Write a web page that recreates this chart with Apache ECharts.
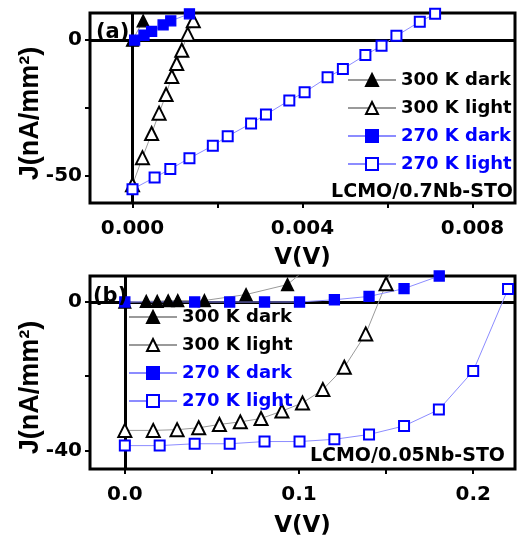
<!DOCTYPE html>
<html>
<head>
<meta charset="utf-8">
<script src="https://cdn.jsdelivr.net/npm/echarts@6/dist/echarts.min.js"></script>
<style>
  html, body { margin: 0; padding: 0; background: #fff; }
  #chart { width: 532px; height: 536px; }
</style>
</head>
<body>
<div id="chart"></div>
<script>
// panel (a): LCMO/0.7Nb-STO
var a300DarkV = [0, 0.00025];
var a300DarkJ = [0, 7.1];
var a300LightV = [0, 0.000234, 0.00045, 0.000625, 0.00079, 0.000925, 0.00104, 0.00116, 0.0013, 0.00143];
var a300LightJ = [-53.3, -43.3, -34.4, -26.9, -20, -13.4, -8.6, -3.7, 2.2, 7.1];
var a270DarkV = [0.00005, 0.00027, 0.00045, 0.00072, 0.0009, 0.00134];
var a270DarkJ = [0, 1.8, 3.2, 5.6, 7.1, 9.7];
var a270LightV = [0, 0.00052, 0.00089, 0.00134, 0.00189, 0.00224, 0.00279, 0.00314, 0.00369, 0.00405,
                  0.00459, 0.00495, 0.00548, 0.00586, 0.00621, 0.00676, 0.00712];
var a270LightJ = [-54.9, -50.6, -47.5, -43.5, -38.9, -35.4, -30.7, -27.4, -22.2, -19.2,
                  -13.7, -10.6, -5.5, -2.1, 1.6, 6.8, 9.7];

// panel (b): LCMO/0.05Nb-STO
var b300DarkV = [0, 0.0123, 0.0186, 0.0249, 0.0304, 0.0457, 0.0696, 0.0934, 0.108];
var b300DarkJ = [0, 0.2, 0.2, 0.35, 0.4, 0.4, 2, 4.7, 10.5];
var b300LightV = [0, 0.0163, 0.03, 0.0424, 0.0543, 0.0663, 0.0782, 0.0902, 0.102, 0.1137, 0.126, 0.1383, 0.15, 0.156];
var b300LightJ = [-34.6, -34.6, -34.4, -33.9, -33, -32.3, -31.4, -29.4, -27.2, -23.6, -17.6, -8.6, 4.9, 12];
var b270DarkV = [0, 0.0401, 0.0602, 0.0802, 0.1003, 0.1203, 0.1402, 0.1603, 0.1805];
var b270DarkJ = [0, 0, 0, 0, 0, 0.6, 1.5, 3.6, 7];
var b270LightV = [0, 0.02, 0.0401, 0.0602, 0.0802, 0.1003, 0.1203, 0.1402, 0.1603, 0.1803, 0.2, 0.22];
var b270LightJ = [-38.7, -38.7, -38.2, -38.2, -37.6, -37.6, -37, -35.7, -33.4, -29, -18.6, 3.5];

var names = ['300 K dark', '300 K light', '270 K dark', '270 K light'];
var nameColors = ['#000', '#000', '#0000ff', '#0000ff'];

var FONT = 'DejaVu Sans';
var BLACK = '#000';
var BLUE = '#0000ff';
var GRAY_LINE = '#9a9a9a';
var BLUE_LINE = '#8c8cff';

function pairs(xs, ys) {
  return xs.map(function (x, i) { return [x, ys[i]]; });
}

function mk(name, idx, xs, ys, symbol, size, color, lineColor) {
  return {
    name: name,
    type: 'line',
    xAxisIndex: idx,
    yAxisIndex: idx,
    data: pairs(xs, ys),
    symbol: symbol,
    symbolSize: size,
    z: 3,
    itemStyle: { color: color, borderColor: color, borderWidth: 1.3, opacity: 1 },
    lineStyle: { color: lineColor, width: 1 }
  };
}

// thick black lines through V = 0 and J = 0
function zeroLines(idx) {
  return {
    type: 'line',
    xAxisIndex: idx,
    yAxisIndex: idx,
    data: [],
    z: 1,
    markLine: {
      silent: true,
      z: 1,
      symbol: 'none',
      label: { show: false },
      lineStyle: { color: BLACK, width: 3, type: 'solid' },
      data: [{ xAxis: 0 }, { yAxis: 0 }]
    }
  };
}

function xAx(idx, min, max, labels, ticks, digits, gap) {
  return {
    type: 'value', gridIndex: idx, min: min, max: max,
    name: 'V(V)', nameLocation: 'middle', nameGap: gap, nameMoveOverlap: false,
    nameTextStyle: { fontFamily: FONT, fontWeight: 'bold', fontSize: 23, color: BLACK },
    axisLine: { show: false, onZero: false },
    splitLine: { show: false },
    axisTick: { show: true, inside: false, length: 5, lineStyle: { color: BLACK, width: 2 }, customValues: ticks },
    axisLabel: {
      customValues: labels, margin: 16,
      fontFamily: FONT, fontWeight: 'bold', fontSize: 20, color: BLACK,
      formatter: function (v) { return v.toFixed(digits); }
    }
  };
}

function yAx(idx, min, max, labels, ticks, pad) {
  return {
    type: 'value', gridIndex: idx, min: min, max: max,
    name: 'J(nA/mm\u00b2)', nameLocation: 'middle', nameGap: 46, nameRotate: 90, nameMoveOverlap: false,
    nameTextStyle: { fontFamily: 'Liberation Sans', fontWeight: 'bold', fontSize: 27, color: BLACK, padding: pad },
    axisLine: { show: false, onZero: false },
    splitLine: { show: false },
    axisTick: { show: true, inside: false, length: 5, lineStyle: { color: BLACK, width: 2 }, customValues: ticks },
    axisLabel: {
      customValues: labels, margin: 8,
      fontFamily: FONT, fontWeight: 'bold', fontSize: 20, color: BLACK
    }
  };
}

function legendFor(left, top) {
  return {
    orient: 'vertical', left: left, top: top, padding: 0,
    itemWidth: 48, itemHeight: 15, itemGap: 10,
    selectedMode: false,
    textStyle: { fontFamily: FONT, fontWeight: 'bold', fontSize: 18 },
    data: names.map(function (n, i) { return { name: n, textStyle: { color: nameColors[i] } }; })
  };
}

var chart = echarts.init(document.getElementById('chart'));

chart.setOption({
  animation: false,
  backgroundColor: '#fff',
  grid: [
    { left: 90, right: 17, top: 13, height: 190, outerBoundsMode: 'none',
      show: true, borderColor: BLACK, borderWidth: 3, backgroundColor: 'transparent' },
    { left: 90, right: 17, top: 276, height: 193, outerBoundsMode: 'none',
      show: true, borderColor: BLACK, borderWidth: 3, backgroundColor: 'transparent' }
  ],
  xAxis: [
    xAx(0, -0.001, 0.009, [0, 0.004, 0.008], [0, 0.002, 0.004, 0.006, 0.008], 3, 44),
    xAx(1, -0.02, 0.224, [0, 0.1, 0.2], [0, 0.05, 0.1, 0.15, 0.2], 1, 46)
  ],
  yAxis: [
    yAx(0, -60, 10, [-50, 0], [-50, -25, 0], [0, 11, 0, 0]),
    yAx(1, -45, 7, [-40, 0], [-40, -20, 0], [0, 30, 0, 0])
  ],
  legend: [legendFor(347, 71), legendFor(128, 308)],
  graphic: [
    { type: 'text', left: 96, top: 22, z: 10,
      style: { text: '(a)', font: 'bold 21px "DejaVu Sans"', fill: BLACK } },
    { type: 'text', left: 93, top: 286, z: 10,
      style: { text: '(b)', font: 'bold 21px "DejaVu Sans"', fill: BLACK } },
    { type: 'text', right: 19, top: 183, z: 10,
      style: { text: 'LCMO/0.7Nb-STO', font: 'bold 19px "DejaVu Sans"', fill: BLACK } },
    { type: 'text', right: 27, top: 447, z: 10,
      style: { text: 'LCMO/0.05Nb-STO', font: 'bold 19px "DejaVu Sans"', fill: BLACK } }
  ],
  series: [
    zeroLines(0),
    zeroLines(1),
    mk(names[0], 0, a300DarkV, a300DarkJ, 'triangle', 12, BLACK, GRAY_LINE),
    mk(names[1], 0, a300LightV, a300LightJ, 'emptyTriangle', 13, BLACK, GRAY_LINE),
    mk(names[2], 0, a270DarkV, a270DarkJ, 'rect', 10, BLUE, BLUE_LINE),
    mk(names[3], 0, a270LightV, a270LightJ, 'emptyRect', 10, BLUE, BLUE_LINE),
    mk(names[0], 1, b300DarkV, b300DarkJ, 'triangle', 12, BLACK, GRAY_LINE),
    mk(names[1], 1, b300LightV, b300LightJ, 'emptyTriangle', 13, BLACK, GRAY_LINE),
    mk(names[2], 1, b270DarkV, b270DarkJ, 'rect', 10, BLUE, BLUE_LINE),
    mk(names[3], 1, b270LightV, b270LightJ, 'emptyRect', 10, BLUE, BLUE_LINE)
  ]
});
</script>
</body>
</html>
